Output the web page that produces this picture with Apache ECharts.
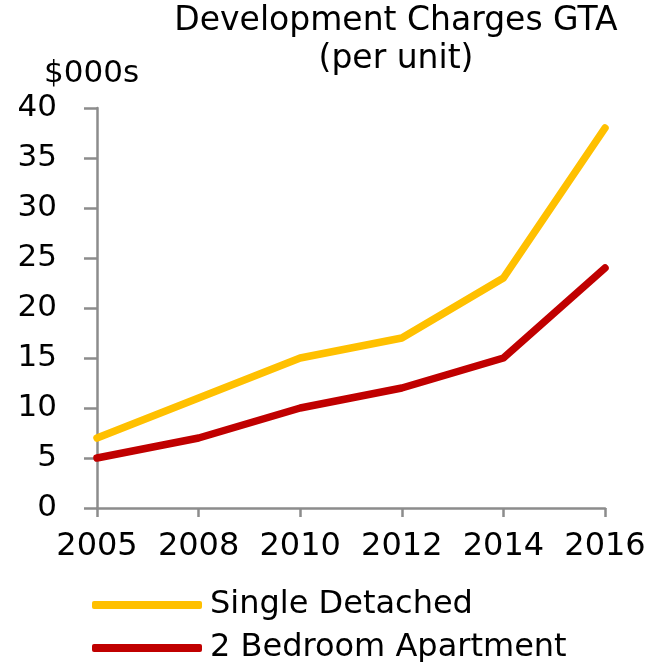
<!DOCTYPE html>
<html>
<head>
<meta charset="utf-8">
<script src="https://cdn.jsdelivr.net/npm/echarts@6/dist/echarts.min.js"></script>
<style>
  html, body { margin: 0; padding: 0; background: #fff; }
  #chart { width: 650px; height: 662px; }
</style>
</head>
<body>
<div id="chart"></div>
<script>
// categories and values ($000s per unit)
var years = ['2005', '2008', '2010', '2012', '2014', '2016'];
var singleDetached = [7, 11, 15, 17, 23, 38];
var twoBedroom = [5, 7, 10, 12, 15, 24];
var seriesNames = ['Single Detached', '2 Bedroom Apartment'];

var font = 'DejaVu Sans';
var axisGrey = '#8c8c8c';

var chart = echarts.init(document.getElementById('chart'));

function legendRow(name, top) {
  return {
    left: 87,
    top: top,
    icon: 'roundRect',
    itemWidth: 110,
    itemHeight: 8,
    data: [name],
    textStyle: {
      color: '#000',
      fontFamily: font,
      fontSize: 32,
      padding: [0, 0, 0, 3]
    }
  };
}

var option = {
  animation: false,
  color: ['#FFC000', '#C00000'],
  graphic: [
    {
      type: 'text',
      x: 396, y: 2,
      style: {
        text: 'Development Charges GTA\n(per unit)',
        font: '33px "DejaVu Sans"',
        fill: '#000',
        textAlign: 'center',
        lineHeight: 38
      }
    },
    {
      type: 'text',
      x: 44, y: 58,
      style: {
        text: '$000s',
        font: '31px "DejaVu Sans"',
        fill: '#000'
      }
    }
  ],
  grid: {
    left: 97,
    right: 45,
    top: 108,
    bottom: 154
  },
  xAxis: {
    type: 'category',
    data: years,
    boundaryGap: false,
    axisLine: { lineStyle: { color: axisGrey, width: 2.5 } },
    axisTick: { show: true, interval: 0, length: 9, lineStyle: { color: axisGrey, width: 2.5 } },
    axisLabel: {
      interval: 0,
      hideOverlap: false,
      color: '#000',
      fontFamily: font,
      fontSize: 32,
      margin: 23
    }
  },
  yAxis: {
    type: 'value',
    min: 0,
    max: 40,
    interval: 5,
    splitLine: { show: false },
    axisLine: { show: true, lineStyle: { color: axisGrey, width: 2.5 } },
    axisTick: { show: true, length: 13, lineStyle: { color: axisGrey, width: 2.5 } },
    axisLabel: {
      color: '#000',
      fontFamily: font,
      fontSize: 31,
      margin: 40
    }
  },
  legend: [
    legendRow(seriesNames[0], 584),
    legendRow(seriesNames[1], 627)
  ],
  series: [
    {
      name: seriesNames[0],
      type: 'line',
      data: singleDetached,
      symbol: 'none',
      lineStyle: { width: 7.5, cap: 'round', join: 'round' }
    },
    {
      name: seriesNames[1],
      type: 'line',
      data: twoBedroom,
      symbol: 'none',
      lineStyle: { width: 7.5, cap: 'round', join: 'round' }
    }
  ]
};

chart.setOption(option);
</script>
</body>
</html>
